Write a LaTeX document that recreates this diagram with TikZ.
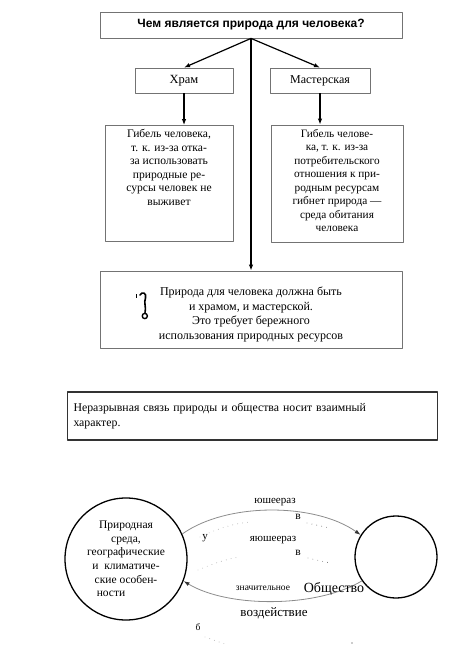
\documentclass[tikz,border=0pt]{standalone}
\usepackage{fontspec}
\setmainfont{Liberation Serif}
\newfontfamily\headfont{Liberation Sans}
\usetikzlibrary{arrows.meta}

\begin{document}
\begin{tikzpicture}[x=1pt,y=-1pt,>={Latex[length=6pt,width=4.5pt]},line join=round,
	every node/.style={font=\fontsize{11}{13.6}\selectfont},
	box/.style={draw=black!55,line width=0.8pt,inner sep=4pt},
	conn/.style={->,line width=1.2pt},
	arc/.style={draw=black!45,line width=0.8pt,-{Latex[length=6pt,width=4pt,black!80]}},
	dotarc/.style={black!35,line width=0.9pt,line cap=round,dash pattern=on 0pt off 5pt}]
	\useasboundingbox (0,0) rectangle (456,648);
	% top part
	\node[box,font=\headfont\bfseries\fontsize{12}{14}\selectfont,minimum width=302pt,minimum height=26pt] (quest) at (251,25) {Чем является природа для человека?};
	\node[box,minimum width=98pt,minimum height=25pt,font=\fontsize{12.5}{14}\selectfont] (temple) at (184,80.5) {Храм};
	\node[box,minimum width=100pt,minimum height=25pt,font=\fontsize{12}{14}\selectfont] (shop) at (320,80.5) {Мастерская};
	\node[box,font=\fontsize{11.6}{13.5}\selectfont] (loss1) at (169,183.5) {\parbox[c][108pt][t]{120pt}{\centering Гибель человека,\\ т. к. из-за отка-\\ за использовать\\ природные ре-\\ сурсы человек не\\ выживет}};
	\node[box,font=\fontsize{11.3}{13.5}\selectfont] (loss2) at (337,183.5) {\parbox[c][109pt][t]{124pt}{\centering Гибель челове-\\ ка, т. к. из-за\\ потребительского\\ отношения к при-\\ родным ресурсам\\ гибнет природа —\\ среда обитания\\ человека}};
	\node[box,minimum width=302pt,minimum height=77pt,align=center,font=\fontsize{12}{14.6}\selectfont] (both) at (251,309.5) {\\[4pt]Природа для человека должна быть\\ и храмом, и мастерской.\\ Это требует бережного\\ использования природных ресурсов};
	\draw[conn] (quest.south) -- (temple.north);
	\draw[conn] (quest.south) -- (shop.north);
	\draw[conn] (quest.south) -- (both.north);
	\draw[conn] (temple.south) -- (temple.south |- loss1.north);
	\draw[conn] (shop.south) -- (shop.south |- loss2.north);
	% sign in the lower box
	\draw[line width=1.6pt,line cap=round] (140,295) .. controls (142,291) and (147,293) .. (145.5,298) .. controls (143.5,303) and (146.5,307) .. (145,312.5);
	\draw[line width=1.4pt] (144.8,316) circle (2.6);
	\draw[line width=0.6pt] (135.8,294) -- (135.8,298);
	% middle box
	\node[draw=black!80,line width=1.3pt,inner xsep=6pt,minimum height=48pt,text width=358pt,align=left,font=\fontsize{11.8}{15}\selectfont] (link) at (252.5,416) {Неразрывная связь природы и общества носит взаимный\\ характер.};
	% nature and society
	\node[circle,draw,line width=1.3pt,minimum size=122pt,inner sep=0pt,align=center,font=\fontsize{11.5}{13.6}\selectfont] (nature) at (126,559) {Природная\\ среда,\\ географические\\ и\ \ климатиче-\hspace*{4pt}\\ ские особен-\hspace*{8pt}\\ ности\hspace*{30pt}};
	\node[circle,draw,line width=1.3pt,minimum size=82pt] (society) at (396,557) {};
	\draw[arc] (nature.24) .. controls +(45,-32) and +(-45,-32) .. (society.148);
	\draw[arc] (society.215) .. controls +(-45,27) and +(45,27) .. (nature.339);
	\node[font=\fontsize{11}{12}\selectfont] (lblup) at (275,502) {юшеераз};
	\node[font=\fontsize{11.5}{12}\selectfont] (lblvup) at (298,517) {в};
	\node (lbly) at (205,538) {у};
	\node[font=\fontsize{11}{12}\selectfont] (lblmid) at (273,540) {яюшеераз};
	\node[font=\fontsize{11.5}{12}\selectfont] (lblvmid) at (298,553) {в};
	\node[font=\fontsize{9.5}{10}\selectfont] (lblsig) at (263,588) {значительное};
	\node[font=\fontsize{14}{16}\selectfont] (lblsoc) at (334,589) {Общество};
	\node[font=\fontsize{13}{14}\selectfont] (lblact) at (274,613) {воздействие};
	\node[font=\fontsize{9.5}{10}\selectfont] (lblb) at (198,627) {б};
	% faint dotted traces
	\draw[dotarc] (200,537) .. controls (215,530) and (230,524) .. (250,522);
	\draw[dotarc] (198,570) .. controls (210,565) and (225,559) .. (240,557);
	\draw[dotarc,black!60] (307,523) -- (330,528);
	\draw[dotarc,black!60] (308,558) -- (330,563);
	\draw[dotarc] (205,637) -- (225,644);
	\fill[black!40] (352,643) circle (0.8);
\end{tikzpicture}
\end{document}
